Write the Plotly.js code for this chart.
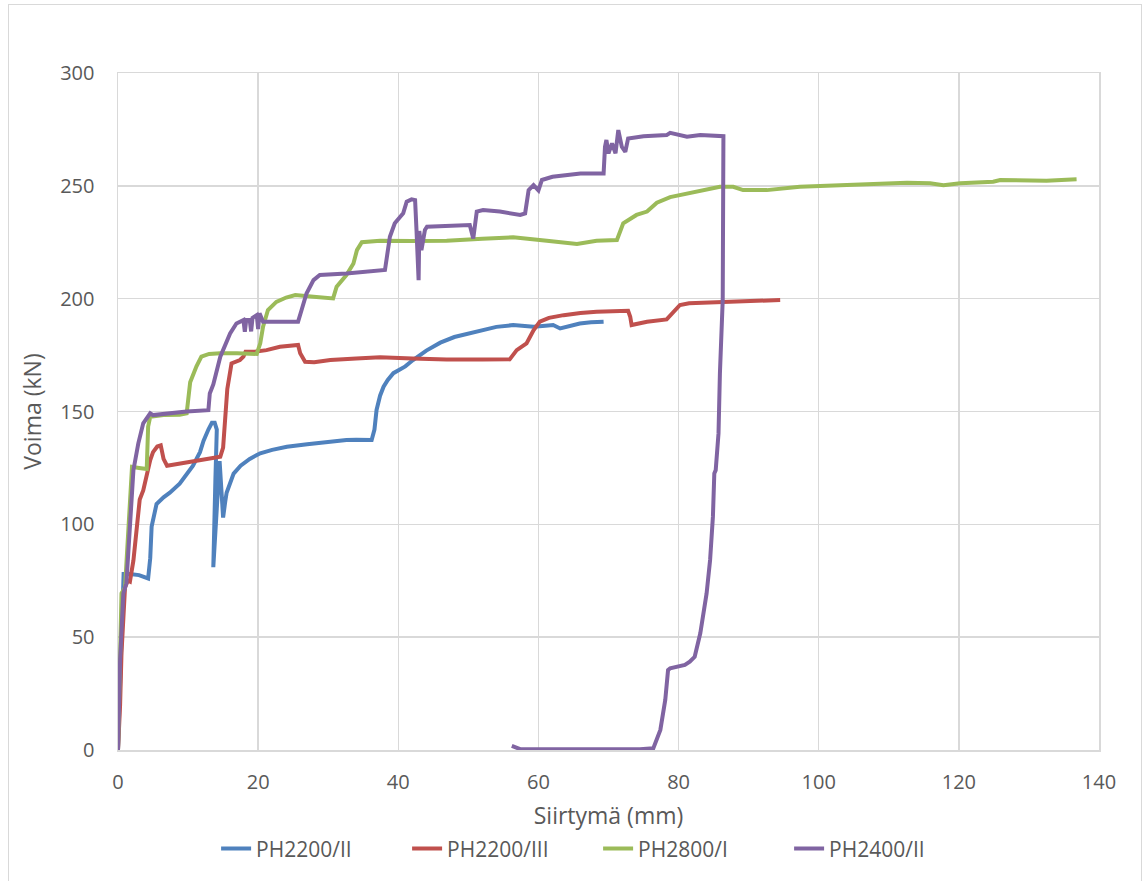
<!DOCTYPE html>
<html>
<head>
<meta charset="utf-8">
<script src="https://cdn.plot.ly/plotly-3.0.1.min.js"></script>
<style>
  html, body { margin: 0; padding: 0; background: #fff; }
  #wrap { position: relative; width: 1143px; height: 881px; overflow: hidden; }
  #chart { width: 1143px; height: 881px; }
  #frame { position: absolute; left: 8px; top: 4px; width: 1132px; height: 900px;
           border: 1px solid #D9D9D9; pointer-events: none; }
</style>
</head>
<body>
<div id="wrap"><div id="chart"></div><div id="frame"></div></div>
<script>
// PH2200/II
const blueX = [0,0.3,0.6,0.8,1.7,3,4.3,4.6,4.8,5.5,6.5,7.4,8.8,9.3,10.7,11.7,12.2,12.9,13.4,13.8,14.1,13.9,13.6,14.5,15.0,15.3,15.5,16.5,17.5,18.8,20.3,22,24.1,27,29.8,32.6,34,36.2,36.6,36.9,37.4,37.9,38.5,39.3,41,42.1,44,46,48,50,51.7,54,56.4,58,59.3,61,62.1,63.1,64.5,65.9,67.5,69.3];
const blueY = [0,35,70,78,78,77.5,76,85,99,109,112,114,118,120,126,132,137,142,145,145,142,120,81,128,103,110,114,122.5,126,129,131.5,133,134.4,135.5,136.6,137.4,137.5,137.4,142,150.7,157,161,164,167,170,172.8,177,180.5,183,184.5,186,187.5,188.3,188,187.6,188,188.3,186.8,188,189,189.5,189.8];

// PH2200/III
const redX = [0,0.3,0.5,0.8,1.0,1.4,1.7,2.2,2.7,3.1,3.6,4.1,4.6,5.0,5.6,6.1,6.5,7.0,8.8,11,13,14.6,15.0,15.3,15.6,16.2,17.4,17.9,18.2,19.5,21.2,23.1,25.7,26.0,26.7,28,30.3,34,37.4,42,46.9,52,55.9,56.9,58.3,59.3,60.2,61.5,63.6,66,68.3,72.8,73.1,73.3,75.5,78.3,79,80.2,81.5,83.1,86,90,94.5];
const redY = [0,20,43,60,72,75,74.6,84,99,111,115,122.6,128.5,132,134.5,135,129,126,127,128,129,130,134,147,160,171.3,172.8,174.3,176.5,176.5,177.2,178.7,179.5,175.8,172,171.8,172.8,173.5,174,173.5,173,173,173.1,177.2,180.2,186,189.8,191.5,192.7,193.6,194.2,194.6,192,188.3,189.8,190.8,193,197.2,198,198.2,198.6,199,199.4];

// PH2800/I
const greenX = [0,0.3,0.5,1.0,1.5,2.0,3,4.1,4.3,4.6,6.5,8.8,9.8,10.3,11.2,11.9,13,14.6,17,19.8,20.3,20.7,21.4,22.6,24,25.3,27.9,30.7,31.2,32.6,33.6,34.1,34.8,36,37.4,42,46.9,52,56.4,61.2,63.5,65.5,68.3,71.2,72.1,74,75.5,76.9,78.8,80.2,83.1,85.9,87.8,89.2,92.6,94.5,97.3,100.2,106.4,112.6,115.9,117.8,120.2,124.9,125.9,130.2,132.5,136.8];
const greenY = [0,40,69.4,72,99,125.5,125,124.5,143.3,147.7,148.4,148.6,149.2,163,170,174.3,175.5,175.8,175.8,175.5,180.2,187.6,195,198.6,200.5,201.6,200.9,200.1,205.3,210.5,215.6,221.5,225,225.5,225.7,225.5,225.7,226.5,227.2,225.7,225,224.2,225.7,226,233.4,237.1,238.6,242.5,245,245.9,247.4,249.6,249.6,248.1,248.1,248.6,249.6,249.9,250.8,251.4,251.1,250.3,251.1,251.8,252.6,252.6,252.3,252.9];

// PH2400/II
const purpleX = [0,0.3,0.76,1.2,1.7,2.2,2.9,3.6,4.6,5.0,9.8,12.9,13.1,13.6,14.6,16,16.9,17.9,18.1,18.3,18.8,19.0,19.2,19.8,20.0,20.2,20.7,25.7,26.2,26.9,27.9,28.8,32.6,37.9,38.1,38.8,39.5,40.7,41.2,41.9,42.4,42.6,42.9,43.0,43.3,43.8,44.1,50.2,50.7,51.2,52.1,54.5,57.4,58.1,58.6,59.3,60.0,60.5,62,66,69.3,69.5,69.7,70,70.5,71,71.4,71.9,72.4,72.8,75,78.3,78.8,81.2,83.1,86.4,86.3,85.9,85.7,85.3,85.1,84.9,84.5,84,83.1,82.3,81.6,80.9,78.8,78.5,78.1,77.4,76.4,74.5,60,57.4,56.2];
const purpleY = [0,40,69.4,73.9,99,124,135.9,144.8,149.2,148.4,150,150.6,158,162,174.3,184.6,189,190.5,185.3,190.5,190.5,185.5,191.5,192.7,186.5,193.5,189.8,189.8,195,202.3,208.2,210.5,211.2,212.7,212.7,227.4,233.4,237.8,243,244,243.7,230.4,208.2,230,221.5,230.4,231.9,232.6,226.7,238.6,239.3,238.6,237.1,237.8,248.1,250.3,248,252.6,254,255.5,255.5,267.3,270.3,264.4,268.8,264.4,274.7,267.3,265.1,271,272,272.5,273.5,271.8,272.5,272,199.4,166.9,140.3,124,122.6,103.4,84.2,69.4,51.7,41.3,39.1,37.7,36.2,35.4,22.2,8.9,0.8,0.3,0.2,0.4,1.8];

const seriesNames = ['PH2200/II','PH2200/III','PH2800/I','PH2400/II'];
const seriesColors = ['#4F81BD','#C0504D','#9BBB59','#8064A2'];
const xs = [blueX, redX, greenX, purpleX];
const ys = [blueY, redY, greenY, purpleY];

const xTitle = 'Siirtymä (mm)';
const yTitle = 'Voima (kN)';

const textColor = '#595959';
const gridColor = '#D9D9D9';
const fontFam = '"Open Sans", "Noto Sans", sans-serif';

const traces = seriesNames.map((n, i) => ({
  type: 'scatter', mode: 'lines', name: n,
  x: xs[i], y: ys[i],
  line: { color: seriesColors[i], width: 4 }
}));

const layout = {
  width: 1143, height: 881,
  paper_bgcolor: 'rgba(0,0,0,0)', plot_bgcolor: '#fff',
  margin: { l: 118, r: 44, t: 73, b: 131 },
  font: { family: fontFam, color: textColor, size: 20 },
  showlegend: true,
  legend: {
    orientation: 'h', x: 0.1, xanchor: 'left', y: -0.146, yanchor: 'middle',
    entrywidth: 146, entrywidthmode: 'pixels',
    font: { size: 21, color: textColor, family: fontFam },
    bgcolor: 'rgba(0,0,0,0)'
  },
  xaxis: {
    range: [0, 140], dtick: 20, tick0: 0,
    showgrid: true, gridcolor: gridColor, gridwidth: 1.5,
    zeroline: false, showline: true, linecolor: gridColor, linewidth: 1.5, mirror: true,
    ticks: '', ticklabelstandoff: 13,
    tickfont: { size: 20, color: textColor, family: fontFam },
    title: { text: xTitle, font: { size: 23, color: textColor, family: fontFam }, standoff: 14 }
  },
  yaxis: {
    range: [0, 300], dtick: 50, tick0: 0,
    showgrid: true, gridcolor: gridColor, gridwidth: 1.5,
    zeroline: false, showline: true, linecolor: gridColor, linewidth: 1.5, mirror: true,
    ticks: '', ticklabelstandoff: 18,
    tickfont: { size: 20, color: textColor, family: fontFam },
    title: { text: yTitle, font: { size: 23, color: textColor, family: fontFam }, standoff: 12 }
  }
};

Plotly.newPlot('chart', traces, layout, { displayModeBar: false, staticPlot: true });
</script>
</body>
</html>
